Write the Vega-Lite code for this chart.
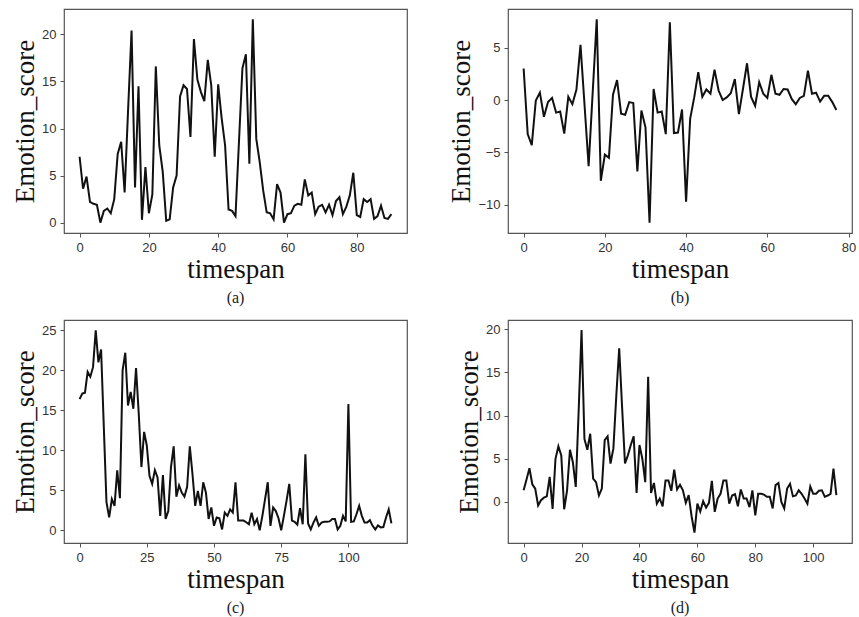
{
  "$schema": "https://vega.github.io/schema/vega-lite/v6.json",
  "padding": {"left": 10, "top": 8, "right": 0, "bottom": 2},
  "background": "white",
  "datasets": {
    "a": [{"t":0,"v":7.0},{"t":1,"v":3.6},{"t":2,"v":4.9},{"t":3,"v":2.2},{"t":4,"v":2.0},{"t":5,"v":1.9},{"t":6,"v":0.0},{"t":7,"v":1.25},{"t":8,"v":1.5},{"t":9,"v":1.0},{"t":10,"v":2.5},{"t":11,"v":7.3},{"t":12,"v":8.6},{"t":13,"v":3.2},{"t":14,"v":12.0},{"t":15,"v":20.4},{"t":16,"v":3.75},{"t":17,"v":14.5},{"t":18,"v":0.3},{"t":19,"v":5.9},{"t":20,"v":1.0},{"t":21,"v":3.0},{"t":22,"v":16.6},{"t":23,"v":8.2},{"t":24,"v":5.4},{"t":25,"v":0.2},{"t":26,"v":0.35},{"t":27,"v":3.75},{"t":28,"v":5.0},{"t":29,"v":13.4},{"t":30,"v":14.6},{"t":31,"v":14.2},{"t":32,"v":9.1},{"t":33,"v":19.5},{"t":34,"v":15.2},{"t":35,"v":13.9},{"t":36,"v":12.9},{"t":37,"v":17.3},{"t":38,"v":14.6},{"t":39,"v":7.0},{"t":40,"v":14.7},{"t":41,"v":11.1},{"t":42,"v":8.2},{"t":43,"v":1.4},{"t":44,"v":1.25},{"t":45,"v":0.7},{"t":46,"v":8.6},{"t":47,"v":16.4},{"t":48,"v":17.9},{"t":49,"v":6.25},{"t":50,"v":21.6},{"t":51,"v":8.9},{"t":52,"v":6.4},{"t":53,"v":3.4},{"t":54,"v":1.1},{"t":55,"v":1.0},{"t":56,"v":0.35},{"t":57,"v":4.1},{"t":58,"v":3.2},{"t":59,"v":0.0},{"t":60,"v":0.9},{"t":61,"v":1.0},{"t":62,"v":1.8},{"t":63,"v":2.0},{"t":64,"v":1.9},{"t":65,"v":4.6},{"t":66,"v":2.9},{"t":67,"v":3.2},{"t":68,"v":0.9},{"t":69,"v":1.7},{"t":70,"v":1.9},{"t":71,"v":1.1},{"t":72,"v":1.9},{"t":73,"v":0.8},{"t":74,"v":2.3},{"t":75,"v":2.7},{"t":76,"v":0.9},{"t":77,"v":1.7},{"t":78,"v":2.9},{"t":79,"v":5.3},{"t":80,"v":0.8},{"t":81,"v":0.6},{"t":82,"v":2.5},{"t":83,"v":2.2},{"t":84,"v":2.5},{"t":85,"v":0.4},{"t":86,"v":0.7},{"t":87,"v":1.8},{"t":88,"v":0.5},{"t":89,"v":0.4},{"t":90,"v":0.9}],
    "b": [{"t":0,"v":3.0},{"t":1,"v":-3.25},{"t":2,"v":-4.3},{"t":3,"v":-0.05},{"t":4,"v":0.7},{"t":5,"v":-1.6},{"t":6,"v":-0.2},{"t":7,"v":0.2},{"t":8,"v":-1.2},{"t":9,"v":-1.1},{"t":10,"v":-3.2},{"t":11,"v":0.3},{"t":12,"v":-0.4},{"t":13,"v":1.0},{"t":14,"v":5.25},{"t":15,"v":-0.5},{"t":16,"v":-6.3},{"t":17,"v":0.7},{"t":18,"v":7.7},{"t":19,"v":-7.7},{"t":20,"v":-5.2},{"t":21,"v":-5.5},{"t":22,"v":0.5},{"t":23,"v":1.9},{"t":24,"v":-1.3},{"t":25,"v":-1.4},{"t":26,"v":-0.2},{"t":27,"v":-0.3},{"t":28,"v":-6.8},{"t":29,"v":-1.0},{"t":30,"v":-2.6},{"t":31,"v":-11.7},{"t":32,"v":1.05},{"t":33,"v":-1.2},{"t":34,"v":-1.1},{"t":35,"v":-3.25},{"t":36,"v":7.4},{"t":37,"v":-3.15},{"t":38,"v":-3.1},{"t":39,"v":-0.9},{"t":40,"v":-9.7},{"t":41,"v":-1.8},{"t":42,"v":0.25},{"t":43,"v":2.65},{"t":44,"v":0.3},{"t":45,"v":1.0},{"t":46,"v":0.6},{"t":47,"v":2.9},{"t":48,"v":0.9},{"t":49,"v":0.0},{"t":50,"v":0.25},{"t":51,"v":0.65},{"t":52,"v":2.0},{"t":53,"v":-1.35},{"t":54,"v":1.05},{"t":55,"v":3.5},{"t":56,"v":0.3},{"t":57,"v":-0.55},{"t":58,"v":1.7},{"t":59,"v":0.6},{"t":60,"v":0.2},{"t":61,"v":2.4},{"t":62,"v":0.6},{"t":63,"v":0.5},{"t":64,"v":1.05},{"t":65,"v":1.0},{"t":66,"v":0.1},{"t":67,"v":-0.4},{"t":68,"v":0.2},{"t":69,"v":0.4},{"t":70,"v":2.8},{"t":71,"v":0.6},{"t":72,"v":0.7},{"t":73,"v":-0.15},{"t":74,"v":0.4},{"t":75,"v":0.4},{"t":76,"v":-0.2},{"t":77,"v":-0.95}],
    "c": [{"t":0,"v":16.4},{"t":1,"v":17.1},{"t":2,"v":17.2},{"t":3,"v":19.8},{"t":4,"v":19.2},{"t":5,"v":20.4},{"t":6,"v":25.0},{"t":7,"v":21.0},{"t":8,"v":22.6},{"t":9,"v":13.0},{"t":10,"v":3.5},{"t":11,"v":1.6},{"t":12,"v":3.9},{"t":13,"v":3.05},{"t":14,"v":7.5},{"t":15,"v":4.0},{"t":16,"v":20.0},{"t":17,"v":22.2},{"t":18,"v":15.6},{"t":19,"v":17.3},{"t":20,"v":15.2},{"t":21,"v":20.3},{"t":22,"v":14.6},{"t":23,"v":7.9},{"t":24,"v":12.3},{"t":25,"v":10.6},{"t":26,"v":6.8},{"t":27,"v":5.8},{"t":28,"v":7.5},{"t":29,"v":6.6},{"t":30,"v":1.8},{"t":31,"v":6.9},{"t":32,"v":1.4},{"t":33,"v":2.4},{"t":34,"v":7.9},{"t":35,"v":10.5},{"t":36,"v":4.2},{"t":37,"v":5.6},{"t":38,"v":4.7},{"t":39,"v":4.2},{"t":40,"v":5.4},{"t":41,"v":10.5},{"t":42,"v":7.0},{"t":43,"v":3.05},{"t":44,"v":4.9},{"t":45,"v":3.05},{"t":46,"v":6.0},{"t":47,"v":4.7},{"t":48,"v":1.4},{"t":49,"v":2.85},{"t":50,"v":0.55},{"t":51,"v":1.6},{"t":52,"v":1.5},{"t":53,"v":0.1},{"t":54,"v":2.2},{"t":55,"v":1.8},{"t":56,"v":2.6},{"t":57,"v":2.2},{"t":58,"v":6.0},{"t":59,"v":1.2},{"t":60,"v":1.2},{"t":61,"v":1.2},{"t":62,"v":1.0},{"t":63,"v":0.75},{"t":64,"v":2.2},{"t":65,"v":0.75},{"t":66,"v":1.4},{"t":67,"v":0.0},{"t":68,"v":1.8},{"t":69,"v":3.9},{"t":70,"v":6.0},{"t":71,"v":0.55},{"t":72,"v":2.85},{"t":73,"v":2.4},{"t":74,"v":1.5},{"t":75,"v":0.0},{"t":76,"v":1.8},{"t":77,"v":3.7},{"t":78,"v":5.8},{"t":79,"v":1.2},{"t":80,"v":1.05},{"t":81,"v":0.7},{"t":82,"v":2.75},{"t":83,"v":0.75},{"t":84,"v":9.5},{"t":85,"v":0.85},{"t":86,"v":0.1},{"t":87,"v":0.95},{"t":88,"v":1.6},{"t":89,"v":0.55},{"t":90,"v":0.95},{"t":91,"v":1.05},{"t":92,"v":1.05},{"t":93,"v":1.1},{"t":94,"v":1.4},{"t":95,"v":1.4},{"t":96,"v":0.1},{"t":97,"v":0.55},{"t":98,"v":1.8},{"t":99,"v":1.1},{"t":100,"v":15.8},{"t":101,"v":1.05},{"t":102,"v":1.1},{"t":103,"v":2.0},{"t":104,"v":3.05},{"t":105,"v":1.8},{"t":106,"v":0.95},{"t":107,"v":0.95},{"t":108,"v":1.25},{"t":109,"v":0.55},{"t":110,"v":0.1},{"t":111,"v":0.6},{"t":112,"v":0.35},{"t":113,"v":0.4},{"t":114,"v":1.6},{"t":115,"v":2.6},{"t":116,"v":0.85}],
    "d": [{"t":0,"v":1.35},{"t":1,"v":2.6},{"t":2,"v":3.9},{"t":3,"v":2.05},{"t":4,"v":1.55},{"t":5,"v":-0.4},{"t":6,"v":0.2},{"t":7,"v":0.5},{"t":8,"v":0.65},{"t":9,"v":2.9},{"t":10,"v":-0.8},{"t":11,"v":5.0},{"t":12,"v":6.45},{"t":13,"v":5.4},{"t":14,"v":-0.85},{"t":15,"v":1.35},{"t":16,"v":6.05},{"t":17,"v":4.6},{"t":18,"v":1.75},{"t":19,"v":10.5},{"t":20,"v":19.9},{"t":21,"v":7.3},{"t":22,"v":6.05},{"t":23,"v":7.9},{"t":24,"v":2.7},{"t":25,"v":2.3},{"t":26,"v":0.75},{"t":27,"v":1.55},{"t":28,"v":7.15},{"t":29,"v":7.6},{"t":30,"v":4.45},{"t":31,"v":6.2},{"t":32,"v":12.3},{"t":33,"v":17.8},{"t":34,"v":11.0},{"t":35,"v":4.45},{"t":36,"v":5.4},{"t":37,"v":6.6},{"t":38,"v":7.6},{"t":39,"v":1.05},{"t":40,"v":6.6},{"t":41,"v":5.0},{"t":42,"v":2.3},{"t":43,"v":14.5},{"t":44,"v":1.05},{"t":45,"v":2.2},{"t":46,"v":-0.2},{"t":47,"v":0.4},{"t":48,"v":-0.5},{"t":49,"v":2.5},{"t":50,"v":2.5},{"t":51,"v":1.3},{"t":52,"v":3.75},{"t":53,"v":1.45},{"t":54,"v":2.0},{"t":55,"v":1.35},{"t":56,"v":-0.1},{"t":57,"v":0.8},{"t":58,"v":-1.65},{"t":59,"v":-3.55},{"t":60,"v":-0.2},{"t":61,"v":-1.1},{"t":62,"v":0.1},{"t":63,"v":-0.65},{"t":64,"v":-0.1},{"t":65,"v":2.45},{"t":66,"v":-1.15},{"t":67,"v":0.4},{"t":68,"v":0.95},{"t":69,"v":2.5},{"t":70,"v":2.5},{"t":71,"v":-0.2},{"t":72,"v":0.75},{"t":73,"v":0.9},{"t":74,"v":-0.5},{"t":75,"v":1.45},{"t":76,"v":0.4},{"t":77,"v":0.4},{"t":78,"v":-0.6},{"t":79,"v":1.35},{"t":80,"v":-1.55},{"t":81,"v":0.95},{"t":82,"v":0.95},{"t":83,"v":0.85},{"t":84,"v":0.6},{"t":85,"v":0.6},{"t":86,"v":-0.75},{"t":87,"v":1.95},{"t":88,"v":2.2},{"t":89,"v":0.0},{"t":90,"v":-0.75},{"t":91,"v":1.55},{"t":92,"v":2.1},{"t":93,"v":0.65},{"t":94,"v":0.75},{"t":95,"v":1.35},{"t":96,"v":0.95},{"t":97,"v":0.4},{"t":98,"v":-0.2},{"t":99,"v":1.8},{"t":100,"v":0.95},{"t":101,"v":0.95},{"t":102,"v":1.3},{"t":103,"v":1.35},{"t":104,"v":0.6},{"t":105,"v":0.75},{"t":106,"v":0.95},{"t":107,"v":3.85},{"t":108,"v":0.8}]
  },
  "columns": 2,
  "spacing": {"row": 12, "column": 39},
  "concat": [
    {
      "width": 343, "height": 224,
      "data": {"name": "a"},
      "title": {"text": "(a)", "orient": "bottom"},
      "mark": {"type": "line", "color": "#111", "strokeWidth": 2},
      "encoding": {
        "x": {"field": "t", "type": "quantitative", "scale": {"domain": [-4.5, 94.5], "nice": false, "zero": false}, "axis": {"values": [0, 20, 40, 60, 80], "title": "timespan"}},
        "y": {"field": "v", "type": "quantitative", "scale": {"domain": [-1.1, 22.7], "nice": false, "zero": false}, "axis": {"values": [0, 5, 10, 15, 20], "title": "Emotion_score"}}
      }
    },
    {
      "width": 344, "height": 224,
      "data": {"name": "b"},
      "title": {"text": "(b)", "orient": "bottom"},
      "mark": {"type": "line", "color": "#111", "strokeWidth": 2},
      "encoding": {
        "x": {"field": "t", "type": "quantitative", "scale": {"domain": [-3.85, 80.85], "nice": false, "zero": false}, "axis": {"values": [0, 20, 40, 60, 80], "title": "timespan"}},
        "y": {"field": "v", "type": "quantitative", "scale": {"domain": [-12.67, 8.67], "nice": false, "zero": false}, "axis": {"values": [-10, -5, 0, 5], "title": "Emotion_score"}}
      }
    },
    {
      "width": 343, "height": 223,
      "data": {"name": "c"},
      "title": {"text": "(c)", "orient": "bottom"},
      "mark": {"type": "line", "color": "#111", "strokeWidth": 2},
      "encoding": {
        "x": {"field": "t", "type": "quantitative", "scale": {"domain": [-5.8, 121.8], "nice": false, "zero": false}, "axis": {"values": [0, 25, 50, 75, 100], "title": "timespan"}},
        "y": {"field": "v", "type": "quantitative", "scale": {"domain": [-1.6, 26.3], "nice": false, "zero": false}, "axis": {"values": [0, 5, 10, 15, 20, 25], "title": "Emotion_score"}}
      }
    },
    {
      "width": 344, "height": 223,
      "data": {"name": "d"},
      "title": {"text": "(d)", "orient": "bottom"},
      "mark": {"type": "line", "color": "#111", "strokeWidth": 2},
      "encoding": {
        "x": {"field": "t", "type": "quantitative", "scale": {"domain": [-5.4, 113.4], "nice": false, "zero": false}, "axis": {"values": [0, 20, 40, 60, 80, 100], "title": "timespan"}},
        "y": {"field": "v", "type": "quantitative", "scale": {"domain": [-4.75, 21.07], "nice": false, "zero": false}, "axis": {"values": [0, 5, 10, 15, 20], "title": "Emotion_score"}}
      }
    }
  ],
  "config": {
    "view": {"stroke": "#555", "strokeWidth": 1.2},
    "axis": {
      "grid": false, "domain": false, "tickColor": "#555", "tickSize": 4, "tickWidth": 1,
      "labelFont": "Liberation Sans", "labelFontSize": 13, "labelColor": "#333", "labelPadding": 4,
      "titleFont": "Liberation Serif", "titleFontSize": 27, "titleFontWeight": "normal", "titleColor": "#111", "titlePadding": 2
    },
    "title": {"font": "Liberation Serif", "fontSize": 16, "fontWeight": "normal", "color": "#222", "offset": 8}
  }
}
